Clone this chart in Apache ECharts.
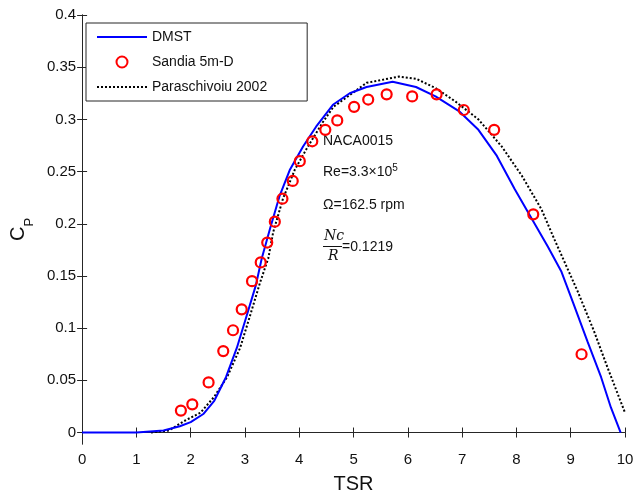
<!DOCTYPE html>
<html>
<head>
<meta charset="utf-8">
<script src="https://cdn.jsdelivr.net/npm/echarts@6/dist/echarts.min.js"></script>
<style>html,body{margin:0;padding:0;background:#fff}#c{width:644px;height:499px}</style>
</head>
<body>
<div id="c"></div>
<script>
const dmstX = [0, 1.0, 1.01, 1.5, 1.8, 2.0, 2.24, 2.43, 2.65, 2.85, 3.02, 3.2, 3.31, 3.46, 3.64, 3.83, 4.07, 4.31, 4.62, 4.93, 5.24, 5.72, 6.15, 6.51, 6.94, 7.30, 7.64, 7.97, 8.28, 8.58, 8.83, 9.04, 9.31, 9.56, 9.74, 9.92];
const dmstY = [0, 0, 0.001, 0.002, 0.006, 0.010, 0.018, 0.030, 0.053, 0.081, 0.110, 0.141, 0.167, 0.195, 0.227, 0.252, 0.274, 0.293, 0.314, 0.325, 0.331, 0.336, 0.331, 0.322, 0.308, 0.290, 0.265, 0.233, 0.205, 0.178, 0.154, 0.125, 0.087, 0.053, 0.024, 0.0];
const sandiaX = [1.82, 2.03, 2.33, 2.60, 2.78, 2.94, 3.13, 3.29, 3.41, 3.55, 3.69, 3.88, 4.01, 4.24, 4.48, 4.70, 5.01, 5.27, 5.61, 6.08, 6.53, 7.03, 7.59, 8.31, 9.20];
const sandiaY = [0.021, 0.027, 0.048, 0.078, 0.098, 0.118, 0.145, 0.163, 0.182, 0.202, 0.224, 0.241, 0.260, 0.279, 0.290, 0.299, 0.312, 0.319, 0.324, 0.322, 0.324, 0.309, 0.290, 0.209, 0.075];
const parX = [1.27, 1.6, 1.88, 2.18, 2.43, 2.67, 2.91, 3.10, 3.28, 3.43, 3.52, 3.70, 3.92, 4.16, 4.43, 4.63, 5.24, 5.84, 6.15, 6.51, 6.88, 7.30, 7.73, 8.10, 8.46, 8.70, 9.13, 9.43, 9.68, 10.0];
const parY = [0, 0.002, 0.011, 0.019, 0.034, 0.053, 0.081, 0.113, 0.144, 0.167, 0.192, 0.224, 0.252, 0.274, 0.297, 0.312, 0.335, 0.341, 0.339, 0.330, 0.317, 0.300, 0.274, 0.246, 0.214, 0.185, 0.135, 0.097, 0.062, 0.019];
const xTicks = [0,1,2,3,4,5,6,7,8,9,10];
const yTicks = [0,0.05,0.1,0.15,0.2,0.25,0.3,0.35,0.4];

const zip = (a,b) => a.map((v,i)=>[v,b[i]]);
const font = 'Liberation Sans, Arial, sans-serif';
const axisLine = {show:true, lineStyle:{color:'#262626', width:1}};
const hiddenSym = {color:'rgba(0,0,0,0)', borderWidth:0, borderColor:'rgba(0,0,0,0)'};
const chart = echarts.init(document.getElementById('c'), null, {renderer:'canvas'});
chart.setOption({
  animation:false,
  backgroundColor:'#fff',
  grid:{left:77, right:19, top:15, bottom:52},
  legend:{
    orient:'vertical', left:86, top:23, width:206,
    padding:[6,40,6,10], itemGap:9, itemWidth:50, itemHeight:11,
    borderColor:'#262626', borderWidth:1, backgroundColor:'#fff',
    textStyle:{fontFamily:font, fontSize:14, color:'#111', lineHeight:16},
    data:[
      {name:'DMST', itemStyle:hiddenSym},
      {name:'Sandia 5m-D'},
      {name:'Paraschivoiu 2002', itemStyle:hiddenSym}
    ]
  },
  xAxis:[{
    type:'value', min:0, max:10, interval:1,
    axisLine:axisLine, splitLine:{show:false},
    axisTick:{inside:true, length:5, lineStyle:{color:'#262626'}},
    axisLabel:{fontFamily:font, fontSize:15, color:'#111', margin:8},
    name:'TSR', nameLocation:'middle', nameGap:30,
    nameTextStyle:{fontFamily:font, fontSize:20, color:'#111'}
  },{
    type:'value', min:0, max:10, interval:1, position:'top',
    axisLine:axisLine, splitLine:{show:false},
    axisTick:{inside:true, length:5, lineStyle:{color:'#262626'}},
    axisLabel:{show:false}
  }],
  yAxis:[{
    type:'value', min:-0.011, max:0.4,
    axisLine:axisLine, splitLine:{show:false},
    axisTick:{inside:true, length:5, customValues:yTicks, lineStyle:{color:'#262626'}},
    axisLabel:{fontFamily:font, fontSize:15, color:'#111', margin:6, customValues:yTicks},
    name:'{c|C}{p|P}', nameLocation:'middle', nameGap:42,
    nameTextStyle:{rich:{c:{fontFamily:font, fontSize:20, color:'#111'}, p:{fontFamily:font, fontSize:13, color:'#111', verticalAlign:'bottom', padding:[0,0,-8,0]}}}
  },{
    type:'value', min:-0.011, max:0.4, position:'right',
    axisLine:axisLine, splitLine:{show:false},
    axisTick:{inside:true, length:5, customValues:yTicks, lineStyle:{color:'#262626'}},
    axisLabel:{show:false}
  }],
  series:[{
    name:'DMST', type:'line', data:zip(dmstX,dmstY), showSymbol:false, symbol:'none',
    lineStyle:{color:'#0000ff', width:2}, itemStyle:{color:'#0000ff'}, z:3
  },{
    name:'Sandia 5m-D', type:'scatter', data:zip(sandiaX,sandiaY), symbol:'circle', symbolSize:10,
    itemStyle:{color:'rgba(255,255,255,0)', borderColor:'#ff0000', borderWidth:2.2, opacity:1}, z:4
  },{
    name:'Paraschivoiu 2002', type:'line', data:zip(parX,parY), showSymbol:false, symbol:'none',
    lineStyle:{color:'#000', width:2, type:[2,2]}, itemStyle:{color:'#000'}, z:2
  }],
  graphic:[
    {type:'text', left:323, top:134, style:{text:'NACA0015', font:'14px '+font, fill:'#111'}},
    {type:'text', left:323, top:163, style:{text:'Re=3.3×10{s|5}', font:'14px '+font, fill:'#111', rich:{s:{fontSize:10, fontFamily:font, verticalAlign:'top', padding:[0,0,8,0], fill:'#111'}}}},
    {type:'text', left:323, top:198, style:{text:'Ω=162.5 rpm', font:'14px '+font, fill:'#111'}},
    {type:'text', left:324, top:229, style:{text:'Nc', font:'italic 14px DejaVu Serif, serif', fill:'#111'}},
    {type:'line', shape:{x1:323, y1:246.5, x2:342, y2:246.5}, style:{stroke:'#111', lineWidth:1}},
    {type:'text', left:328, top:249, style:{text:'R', font:'italic 14px DejaVu Serif, serif', fill:'#111'}},
    {type:'text', left:342, top:240, style:{text:'=0.1219', font:'14px '+font, fill:'#111'}}
  ]
});
</script>
</body>
</html>
